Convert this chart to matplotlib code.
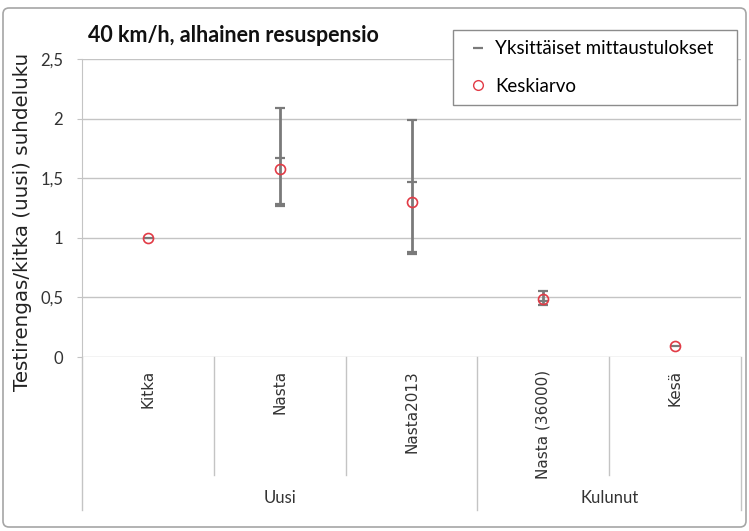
import matplotlib
matplotlib.use("Agg")
import matplotlib.pyplot as plt
import matplotlib.transforms as mtransforms
from matplotlib.lines import Line2D
from matplotlib.patches import FancyBboxPatch

categories = ["Kitka", "Nasta", "Nasta2013", "Nasta (36000)", "Kesä"]
groups = ["Uusi", "Kulunut"]
group_sizes = [3, 2]
# yksittäiset mittaustulokset (luettu kuvasta)
measurements = [
    [1.0],
    [2.09, 1.67, 1.28, 1.27],
    [1.99, 1.47, 0.88, 0.86],
    [0.55, 0.47, 0.44],
    [0.09],
]
means = [1.0, 1.58, 1.30, 0.49, 0.09]
yticks = [0, 0.5, 1, 1.5, 2, 2.5]
ytick_labels = ["0", "0,5", "1", "1,5", "2", "2,5"]

W, H = 749, 531
fig = plt.figure(figsize=(W / 100, H / 100), dpi=100)
fig.patch.set_facecolor("white")

# ulkoreunus
fig.add_artist(FancyBboxPatch((3, 4), 743, 519, boxstyle="round,pad=0,rounding_size=6",
                              transform=mtransforms.IdentityTransform(),
                              facecolor="none", edgecolor="#a6a6a6", lw=1.2))

left, right, top, bottom = 82, 741, 59, 357
ax = fig.add_axes([left / W, 1 - bottom / H, (right - left) / W, (bottom - top) / H])
ax.set_xlim(-0.5, len(categories) - 0.5)
ax.set_ylim(0, 2.5)

grid_c = "#c4c4c4"
for sp in ["top", "right", "bottom"]:
    ax.spines[sp].set_visible(False)
ax.spines["left"].set_color(grid_c)
for y in yticks:
    ax.axhline(y, color=grid_c, lw=1, zorder=0)

ax.set_yticks(yticks)
ax.set_yticklabels(ytick_labels, fontfamily="Lato", fontsize=12, color="#333333")
ax.tick_params(axis="y", length=3.6, color=grid_c, pad=10)
ax.set_xticks([])

gray = "#7a7a7a"
red = "#e23b46"
for i, vals in enumerate(measurements):
    if len(vals) > 1:
        ax.vlines(i, min(vals), max(vals), color=gray, lw=2, zorder=2)
    ax.plot([i] * len(vals), vals, ls="none", marker="_", ms=6.5, mew=1.6, color=gray, zorder=3)
ax.plot(range(len(means)), means, ls="none", marker="o", ms=7.2, mfc="none",
        mec=red, mew=1.2, zorder=4)

# kategoria-akseli
trans = mtransforms.blended_transform_factory(ax.transData, ax.transAxes)
short_y = (bottom - 475) / (bottom - top)
long_y = (bottom - 510) / (bottom - top)
bounds = [-0.5]
for s in group_sizes:
    bounds.append(bounds[-1] + s)
for k in range(len(categories) + 1):
    x = k - 0.5
    yb = long_y if x in bounds else short_y
    ax.plot([x, x], [0, yb], color=grid_c, lw=1, transform=trans, clip_on=False)
for i, c in enumerate(categories):
    ax.text(i, (bottom - 370) / (bottom - top), c, rotation=90, ha="center", va="top",
            transform=trans, fontsize=11, color="#333333")
start = -0.5
for g, s in zip(groups, group_sizes):
    ax.text(start + s / 2, (bottom - 498) / (bottom - top), g, ha="center", va="center",
            transform=trans, fontfamily="Lato", fontsize=12, color="#333333")
    start += s

fig.text(23 / W, 1 - 222 / H, "Testirengas/kitka (uusi) suhdeluku", rotation=90,
         ha="center", va="center", fontsize=14.3, color="#222222")
fig.text(88 / W, 1 - 35 / H, "40 km/h, alhainen resuspensio", ha="left", va="center",
         fontfamily="Lato", fontweight="bold", fontsize=15.5, color="#111111")

handles = [
    Line2D([], [], ls="none", marker="_", ms=7, mew=1.6, color=gray),
    Line2D([], [], ls="none", marker="o", ms=7, mfc="none", mec=red, mew=1.0),
]
leg = fig.legend(handles, ["Yksittäiset mittaustulokset", "Keskiarvo"],
                 loc="upper left", bbox_to_anchor=(453 / W, 1 - 107 / H, 284 / W, 77 / H),
                 mode="expand", frameon=True, fancybox=False, edgecolor="#8c8c8c",
                 framealpha=1, prop={"family": "Lato", "size": 13.5}, handlelength=1.6,
                 handletextpad=0.1, labelspacing=1.1, borderpad=0.55, borderaxespad=0)
leg.get_frame().set_linewidth(1)

fig.savefig("out.png", dpi=100)
